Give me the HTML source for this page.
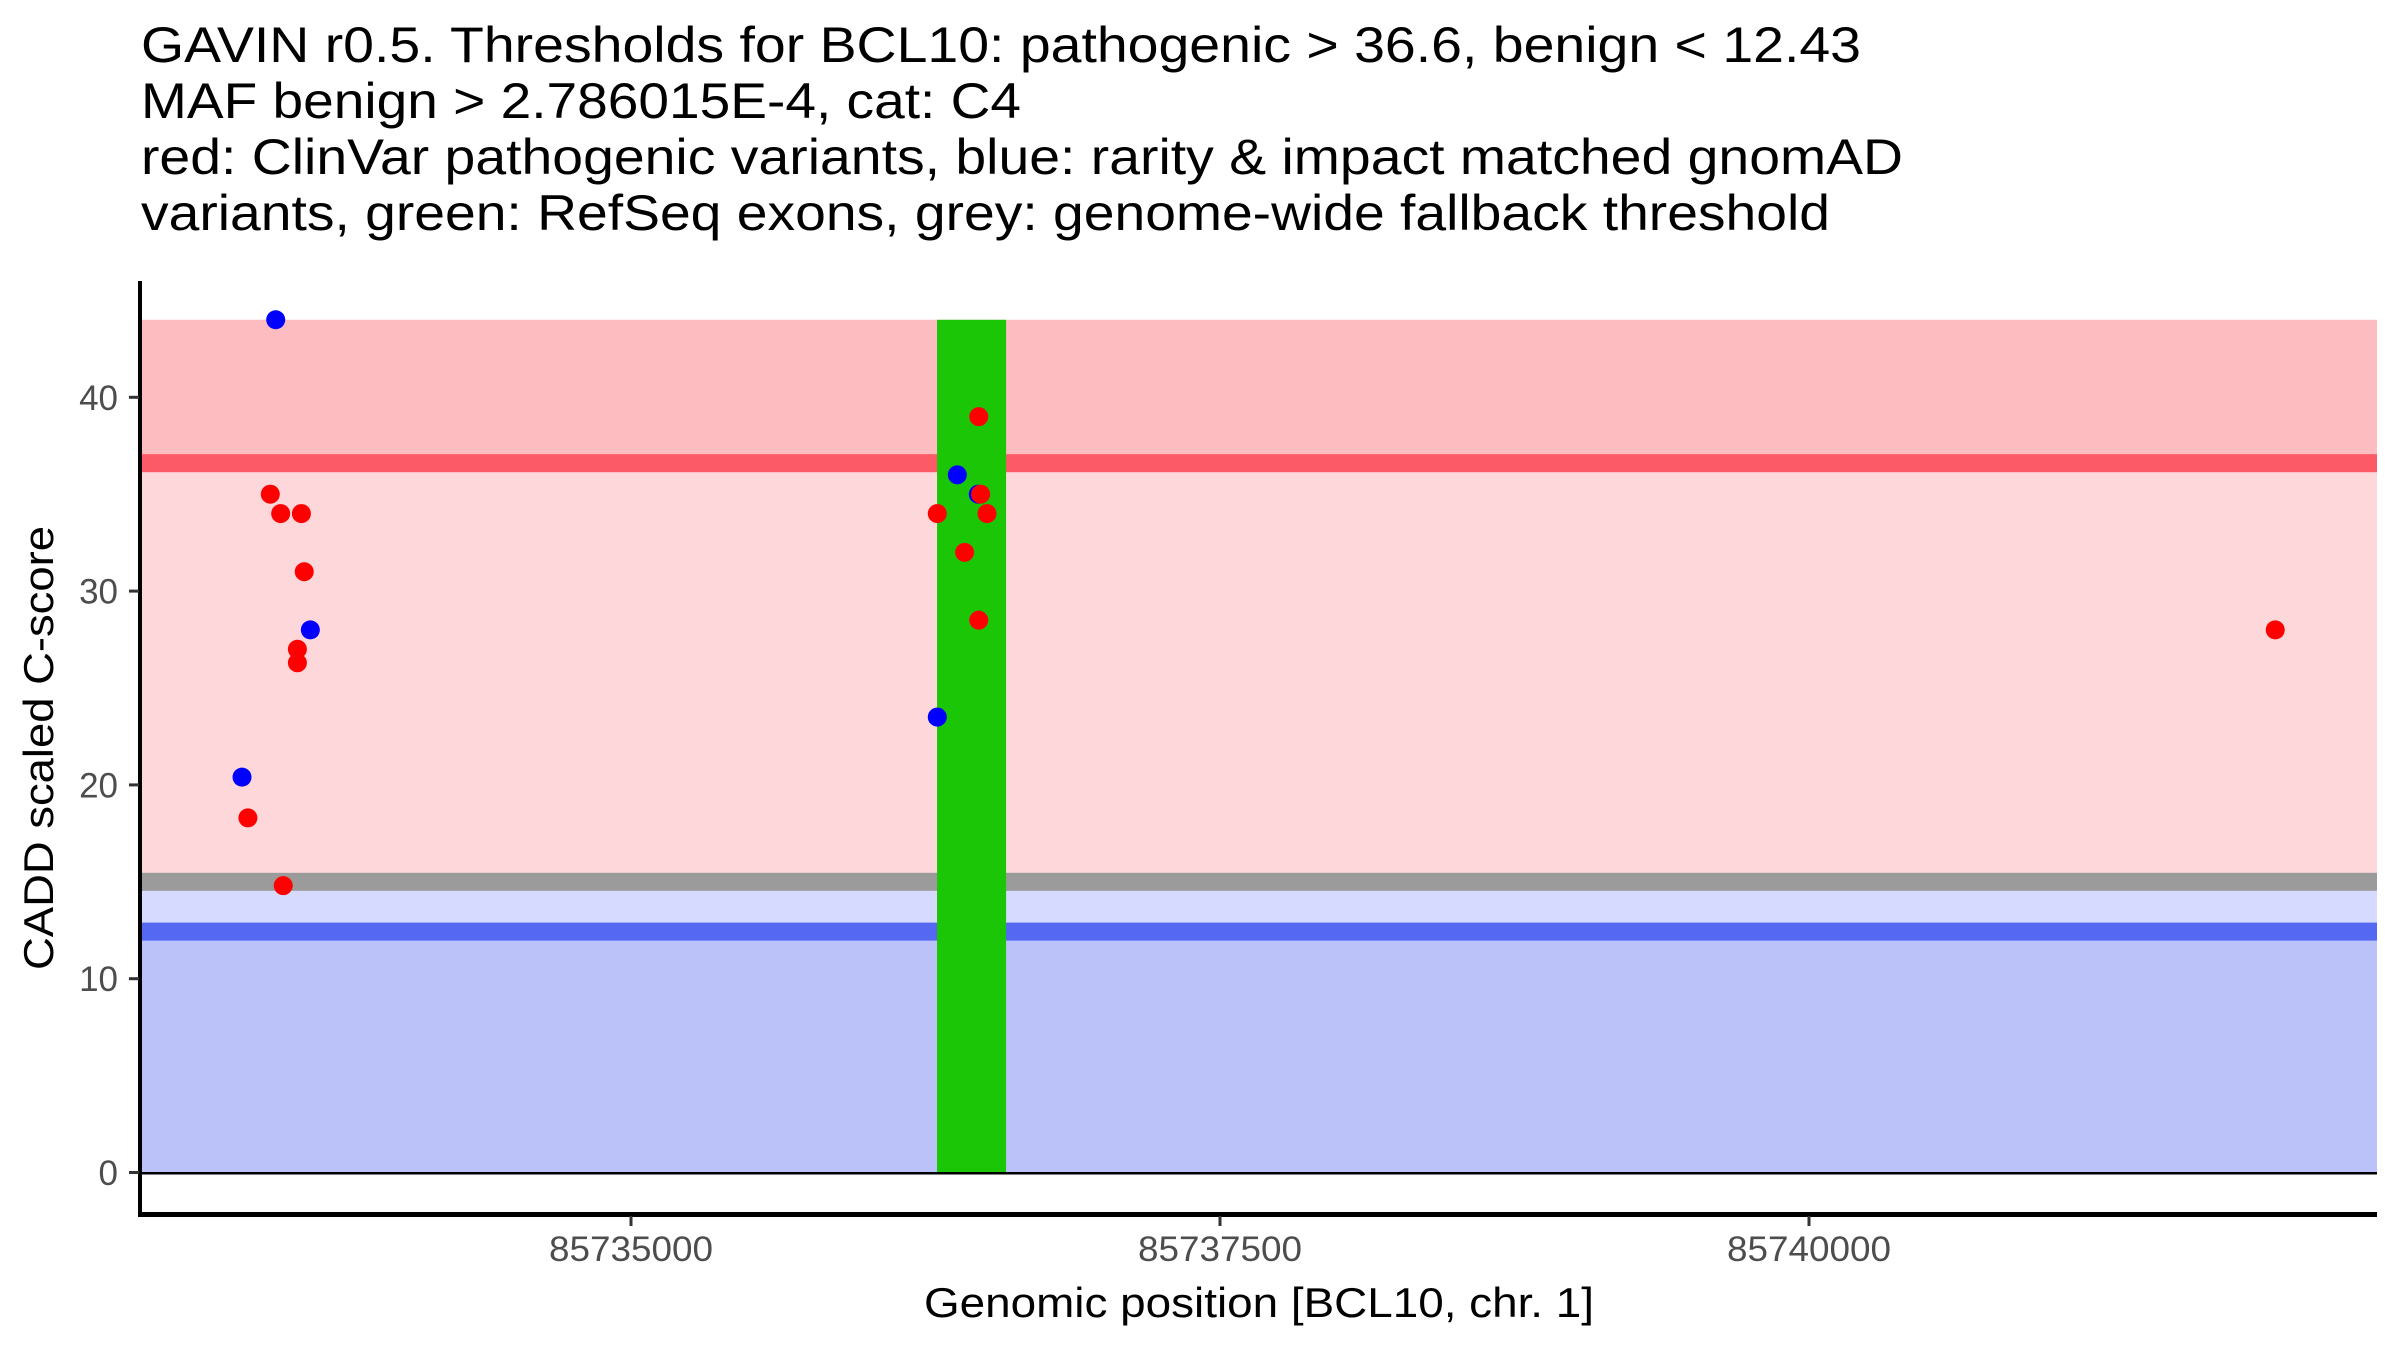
<!DOCTYPE html>
<html><head><meta charset="utf-8"><style>
html,body{margin:0;padding:0;background:#fff;}
svg{display:block;font-family:"Liberation Sans",Arial,sans-serif;}
</style></head><body>
<svg id="chart" width="2400" height="1350" viewBox="0 0 2400 1350" xmlns="http://www.w3.org/2000/svg">
<g font-size="50" fill="#000">
<text x="141" y="62" textLength="1720" lengthAdjust="spacingAndGlyphs">GAVIN r0.5. Thresholds for BCL10: pathogenic &gt; 36.6, benign &lt; 12.43</text>
<text x="141" y="118" textLength="880" lengthAdjust="spacingAndGlyphs">MAF benign &gt; 2.786015E-4, cat: C4</text>
<text x="141" y="174" textLength="1762" lengthAdjust="spacingAndGlyphs">red: ClinVar pathogenic variants, blue: rarity &amp; impact matched gnomAD</text>
<text x="141" y="230" textLength="1689" lengthAdjust="spacingAndGlyphs">variants, green: RefSeq exons, grey: genome-wide fallback threshold</text>
</g>
<g id="bands"></g>
<g id="exons"></g>
<g id="points"></g>
<g id="axes"></g>
</svg>
<script>
const yTicks = [0, 10, 20, 30, 40];
const xTicks = [85735000, 85737500, 85740000];
const xTickLabels = ["85735000", "85737500", "85740000"];
const pathoThreshold = 36.6;
const benignThreshold = 12.43;
const fallbackThreshold = 15;
const yMax = 44;
const exonStarts = [85736299];
const exonEnds = [85736592];
const redPos = [85733469,85733513,85733601,85733613,85733584,85733584,85733374,85733524,85736476,85736484,85736300,85736511,85736416,85736476,85741979];
const redScore = [35,34,34,31,27,26.3,18.3,14.8,39,35,34,34,32,28.5,28];
const bluePos = [85733492,85733639,85733349,85736385,85736474,85736300];
const blueScore = [44,28,20.4,36,35,23.5];

const NS = "http://www.w3.org/2000/svg";
const X0 = 142, X1 = 2377;
function xs(p){ return 631 + (p - 85735000) * 589 / 2500; }
function ys(v){ return 1172.5 - v * 19.38; }
function mk(parent, tag, attrs){
  const e = document.createElementNS(NS, tag);
  for (const k in attrs) e.setAttribute(k, attrs[k]);
  parent.appendChild(e);
  return e;
}
const bands = document.getElementById('bands');
function band(v1, v2, color, name){
  const r = mk(bands, 'rect', {x: X0, y: ys(v1), width: X1 - X0, height: ys(v2) - ys(v1), fill: color});
  
  
}
band(yMax, pathoThreshold, '#fdbcc0', 'pathogenic-band');
band(pathoThreshold, fallbackThreshold, '#fdd7da', 'uncertain-band');
band(fallbackThreshold, benignThreshold, '#d7daff', 'fallback-band');
band(benignThreshold, 0, '#bbc2fa', 'benign-band');
function hline(v, color, name){
  const r = mk(bands, 'rect', {x: X0, y: ys(v) - 9, width: X1 - X0, height: 18, fill: color});
  
  
}
hline(pathoThreshold, '#fc5a66', 'pathogenic-threshold-line');
hline(fallbackThreshold, '#9b9b9b', 'fallback-threshold-line');
hline(benignThreshold, '#5468f2', 'benign-threshold-line');

const exons = document.getElementById('exons');
for (let i = 0; i < exonStarts.length; i++){
  const r = mk(exons, 'rect', {x: xs(exonStarts[i]), y: ys(yMax), width: xs(exonEnds[i]) - xs(exonStarts[i]), height: ys(0) - ys(yMax), fill: '#1ac605'});
  
  
}
const zl = mk(exons, 'rect', {x: X0, y: 1172, width: X1 - X0, height: 2.5, fill: '#000'});



const pts = document.getElementById('points');
for (let i = 0; i < bluePos.length; i++){
  const c = mk(pts, 'circle', {cx: xs(bluePos[i]), cy: ys(blueScore[i]), r: 9.5, fill: '#0000ff'});
  
  
}
for (let i = 0; i < redPos.length; i++){
  const c = mk(pts, 'circle', {cx: xs(redPos[i]), cy: ys(redScore[i]), r: 9.5, fill: '#ff0000'});
  
  
}

const ax = document.getElementById('axes');
const ya = mk(ax, 'rect', {x: 138, y: 281, width: 4, height: 936, fill: '#000'});


const xa = mk(ax, 'rect', {x: 138, y: 1212, width: X1 - 138, height: 5, fill: '#000'});


yTicks.forEach(v => {
  const t = mk(ax, 'rect', {x: 129, y: ys(v) - 1.5, width: 10, height: 3, fill: '#333'});
  
  
  const l = mk(ax, 'text', {x: 118, y: ys(v) + 12.5, 'text-anchor': 'end', 'font-size': 35, fill: '#4d4d4d'});
  l.textContent = String(v);
  
  
});
xTicks.forEach((p, i) => {
  const t = mk(ax, 'rect', {x: xs(p) - 1.5, y: 1216, width: 3, height: 10, fill: '#333'});
  
  
  const l = mk(ax, 'text', {x: xs(p), y: 1261, 'text-anchor': 'middle', 'font-size': 35, fill: '#4d4d4d', textLength: 164, lengthAdjust: 'spacingAndGlyphs'});
  l.textContent = xTickLabels[i];
  
  
});
const xt = mk(ax, 'text', {x: 1259, y: 1317, 'text-anchor': 'middle', 'font-size': 42, fill: '#000', textLength: 670, lengthAdjust: 'spacingAndGlyphs'});
xt.textContent = 'Genomic position [BCL10, chr. 1]';


const yt = mk(ax, 'text', {x: 0, y: 0, 'text-anchor': 'middle', 'font-size': 42, fill: '#000', textLength: 444, lengthAdjust: 'spacingAndGlyphs', transform: 'translate(53,748) rotate(-90)'});
yt.textContent = 'CADD scaled C-score';


</script>
</body></html>
